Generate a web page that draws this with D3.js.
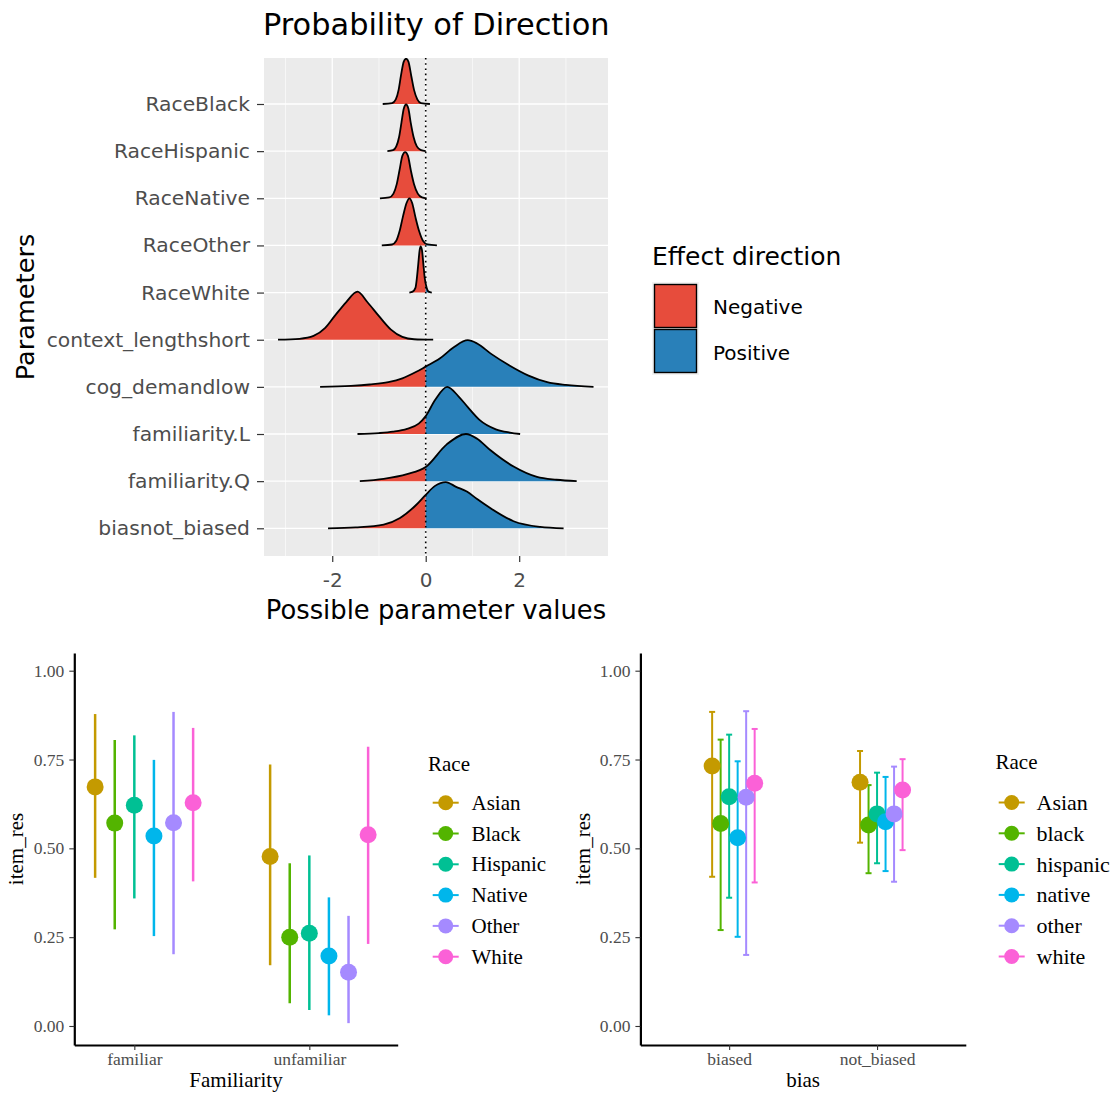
<!DOCTYPE html>
<html>
<head>
<meta charset="utf-8">
<script src="https://cdn.jsdelivr.net/npm/d3@7"></script>
<style>
  body { margin: 0; background: #fff; }
</style>
</head>
<body>
<div id="chart"></div>
<script>
// ---- top chart: posterior ridges (x value, height relative to row) ----
var params = ["RaceBlack", "RaceHispanic", "RaceNative", "RaceOther", "RaceWhite",
              "context_lengthshort", "cog_demandlow", "familiarity.L", "familiarity.Q", "biasnot_biased"];

var pdRaceBlack = [[-0.92,0],[-0.72,0.02],[-0.64,0.1],[-0.58,0.3],[-0.53,0.6],[-0.47,0.9],[-0.42,0.96],[-0.37,0.9],[-0.31,0.6],[-0.25,0.3],[-0.18,0.1],[-0.1,0.02],[0.09,0]];
var pdRaceHispanic = [[-0.82,0],[-0.7,0.02],[-0.63,0.1],[-0.57,0.3],[-0.52,0.6],[-0.47,0.9],[-0.42,0.99],[-0.37,0.9],[-0.32,0.6],[-0.26,0.3],[-0.19,0.1],[-0.1,0.02],[0.0,0]];
var pdRaceNative = [[-0.98,0],[-0.78,0.02],[-0.69,0.1],[-0.62,0.3],[-0.56,0.6],[-0.5,0.9],[-0.44,0.98],[-0.38,0.9],[-0.32,0.6],[-0.25,0.3],[-0.17,0.1],[-0.08,0.02],[0.02,0]];
var pdRaceOther = [[-0.94,0],[-0.72,0.02],[-0.63,0.1],[-0.56,0.3],[-0.49,0.6],[-0.41,0.9],[-0.35,1.0],[-0.29,0.9],[-0.22,0.6],[-0.14,0.3],[-0.06,0.1],[0.04,0.02],[0.24,0]];
var pdRaceWhite = [[-0.35,0],[-0.28,0.02],[-0.22,0.1],[-0.19,0.3],[-0.16,0.6],[-0.13,0.9],[-0.11,0.98],[-0.08,0.9],[-0.05,0.6],[-0.02,0.3],[0.02,0.1],[0.06,0.02],[0.13,0]];
var pdContext = [[-3.16,0],[-2.7,0.02],[-2.4,0.08],[-2.15,0.25],[-1.95,0.5],[-1.7,0.8],[-1.46,1.02],[-1.25,0.8],[-1.0,0.5],[-0.75,0.22],[-0.5,0.06],[-0.25,0.01],[0.16,0]];
var pdCogDemand = [[-2.26,0],[-1.6,0.02],[-1.2,0.05],[-0.8,0.1],[-0.5,0.18],[-0.2,0.32],[0,0.43],[0.3,0.6],[0.6,0.84],[0.9,0.99],[1.1,0.92],[1.4,0.7],[1.8,0.45],[2.2,0.24],[2.6,0.1],[3.0,0.04],[3.59,0]];
var pdFamL = [[-1.46,0],[-1.0,0.02],[-0.7,0.05],[-0.4,0.11],[-0.15,0.22],[0,0.38],[0.2,0.72],[0.46,1.0],[0.7,0.8],[0.9,0.57],[1.15,0.3],[1.5,0.1],[1.8,0.03],[2.02,0]];
var pdFamQ = [[-1.41,0],[-0.9,0.05],[-0.4,0.15],[0,0.3],[0.45,0.78],[0.86,1.0],[1.1,0.9],[1.38,0.66],[1.88,0.31],[2.38,0.09],[2.8,0.03],[3.23,0]];
var pdBias = [[-2.09,0],[-1.5,0.02],[-0.9,0.08],[-0.55,0.22],[-0.2,0.5],[0,0.71],[0.2,0.9],[0.43,0.98],[0.65,0.88],[0.88,0.78],[1.1,0.62],[1.38,0.43],[1.88,0.15],[2.45,0.03],[2.95,0]];

var ridges = [pdRaceBlack, pdRaceHispanic, pdRaceNative, pdRaceOther, pdRaceWhite,
              pdContext, pdCogDemand, pdFamL, pdFamQ, pdBias];

var xTicksTop = [-2, 0, 2];
var xMinorTop = [-3, -1, 1, 3];
var directions = ["Negative", "Positive"];

// ---- bottom left: Familiarity ----
var famCats = ["familiar", "unfamiliar"];
var famRaces = ["Asian", "Black", "Hispanic", "Native", "Other", "White"];
var famMid  = [[0.673, 0.571, 0.621, 0.535, 0.572, 0.628], [0.477, 0.250, 0.261, 0.197, 0.151, 0.538]];
var famLow  = [[0.417, 0.272, 0.359, 0.253, 0.202, 0.407], [0.171, 0.064, 0.045, 0.030, 0.008, 0.231]];
var famHigh = [[0.878, 0.805, 0.818, 0.749, 0.884, 0.839], [0.736, 0.458, 0.480, 0.362, 0.310, 0.786]];

// ---- bottom right: bias ----
var biasCats = ["biased", "not_biased"];
var biasRaces = ["Asian", "black", "hispanic", "native", "other", "white"];
var biasMid  = [[0.732, 0.570, 0.645, 0.530, 0.644, 0.683], [0.686, 0.566, 0.597, 0.575, 0.597, 0.664]];
var biasLow  = [[0.420, 0.270, 0.361, 0.251, 0.200, 0.404], [0.516, 0.430, 0.458, 0.436, 0.406, 0.495]];
var biasHigh = [[0.884, 0.806, 0.820, 0.745, 0.886, 0.836], [0.774, 0.678, 0.713, 0.701, 0.730, 0.751]];

var yTicksBottom = [0, 0.25, 0.5, 0.75, 1];

var raceColors = ["#C49A00", "#53B400", "#00C094", "#00B6EB", "#A58AFF", "#FB61D7"];
var negColor = "#E74C3C", posColor = "#2980B9";

var svg = d3.select("#chart").append("svg")
    .attr("width", 1119)
    .attr("height", 1095)
    .style("background", "#fff");

var sans = "DejaVu Sans, sans-serif";
var serif = "Liberation Serif, Times New Roman, serif";

// ================= TOP PANEL =================
var px0 = 264, px1 = 608, py0 = 58, py1 = 556;
var rowH = 47.14;

var xScale = d3.scaleLinear().domain([-3.46, 3.9]).range([px0, px1]);
var yScale = d3.scalePoint().domain(params).range([104, 528.3]);

var defs = svg.append("defs");
defs.append("clipPath").attr("id", "negClip").append("rect")
    .attr("x", px0).attr("y", py0).attr("width", xScale(0) - px0).attr("height", py1 - py0);
defs.append("clipPath").attr("id", "posClip").append("rect")
    .attr("x", xScale(0)).attr("y", py0).attr("width", px1 - xScale(0)).attr("height", py1 - py0);
defs.append("clipPath").attr("id", "panelClip").append("rect")
    .attr("x", px0).attr("y", py0).attr("width", px1 - px0).attr("height", py1 - py0);

var topG = svg.append("g");

topG.append("rect")
    .attr("x", px0).attr("y", py0)
    .attr("width", px1 - px0).attr("height", py1 - py0)
    .attr("fill", "#EBEBEB");

// minor grid
topG.selectAll(".minorX").data(xMinorTop).enter().append("line")
    .attr("x1", d => xScale(d)).attr("x2", d => xScale(d))
    .attr("y1", py0).attr("y2", py1)
    .attr("stroke", "#fff").attr("stroke-width", 0.6);
// major grid
topG.selectAll(".majorX").data(xTicksTop).enter().append("line")
    .attr("x1", d => xScale(d)).attr("x2", d => xScale(d))
    .attr("y1", py0).attr("y2", py1)
    .attr("stroke", "#fff").attr("stroke-width", 1.3);
topG.selectAll(".majorY").data(params).enter().append("line")
    .attr("x1", px0).attr("x2", px1)
    .attr("y1", d => yScale(d)).attr("y2", d => yScale(d))
    .attr("stroke", "#fff").attr("stroke-width", 1.3);

var ridgeG = topG.append("g").attr("clip-path", "url(#panelClip)");

params.forEach(function(p, i) {
    var base = yScale(p);
    var area = d3.area()
        .x(d => xScale(d[0]))
        .y0(base)
        .y1(d => base - d[1] * rowH)
        .curve(d3.curveMonotoneX);
    var line = d3.line()
        .x(d => xScale(d[0]))
        .y(d => base - d[1] * rowH)
        .curve(d3.curveMonotoneX);
    var g = ridgeG.append("g");
    g.append("path").attr("d", area(ridges[i])).attr("fill", negColor).attr("clip-path", "url(#negClip)");
    g.append("path").attr("d", area(ridges[i])).attr("fill", posColor).attr("clip-path", "url(#posClip)");
    g.append("path").attr("d", line(ridges[i]))
        .attr("fill", "none").attr("stroke", "#000").attr("stroke-width", 1.8)
        .attr("stroke-linejoin", "round");
});

// zero line
topG.append("line")
    .attr("x1", xScale(0)).attr("x2", xScale(0))
    .attr("y1", py0).attr("y2", py1)
    .attr("stroke", "#000").attr("stroke-width", 1.6)
    .attr("stroke-dasharray", "1.6,3.6");

// axes
var yAxisTop = topG.append("g")
    .attr("transform", "translate(" + px0 + ",0)")
    .call(d3.axisLeft(yScale).tickSize(7).tickPadding(7));
yAxisTop.select(".domain").remove();
yAxisTop.selectAll("line").attr("stroke", "#333").attr("stroke-width", 1.2);
yAxisTop.selectAll("text").attr("font-family", sans).attr("font-size", 20.3).attr("fill", "#4D4D4D");

var xAxisTop = topG.append("g")
    .attr("transform", "translate(0," + py1 + ")")
    .call(d3.axisBottom(xScale).tickValues(xTicksTop).tickFormat(d => String(d)).tickSize(6).tickPadding(11));
xAxisTop.select(".domain").remove();
xAxisTop.selectAll("line").attr("stroke", "#333").attr("stroke-width", 1.2);
xAxisTop.selectAll("text").attr("font-family", sans).attr("font-size", 20).attr("fill", "#4D4D4D");

topG.append("text")
    .attr("x", 263).attr("y", 35)
    .attr("font-family", sans).attr("font-size", 30.4)
    .text("Probability of Direction");

topG.append("text")
    .attr("x", (px0 + px1) / 2).attr("y", 619)
    .attr("text-anchor", "middle")
    .attr("font-family", sans).attr("font-size", 25.8)
    .text("Possible parameter values");

topG.append("text")
    .attr("transform", "translate(34," + ((py0 + py1) / 2) + ") rotate(-90)")
    .attr("text-anchor", "middle")
    .attr("font-family", sans).attr("font-size", 25.6)
    .text("Parameters");

// legend
var legTop = topG.append("g");
legTop.append("text")
    .attr("x", 652).attr("y", 265)
    .attr("font-family", sans).attr("font-size", 25)
    .text("Effect direction");
legTop.append("rect")
    .attr("x", 652).attr("y", 282).attr("width", 47).attr("height", 93)
    .attr("fill", "#F2F2F2");
directions.forEach(function(d, i) {
    legTop.append("rect")
        .attr("x", 654.5).attr("y", 284.5 + i * 45)
        .attr("width", 42).attr("height", 43)
        .attr("fill", i === 0 ? negColor : posColor)
        .attr("stroke", "#000").attr("stroke-width", 1.4);
    legTop.append("text")
        .attr("x", 713).attr("y", 307 + i * 46)
        .attr("dominant-baseline", "central")
        .attr("font-family", sans).attr("font-size", 20)
        .text(d);
});

// ================= BOTTOM PANELS =================
function dotPanel(o) {
    var g = svg.append("g");
    var x = d3.scaleLinear().domain(o.xDomain).range(o.xRange);
    var y = d3.scaleLinear().domain([-0.0535, 1.0498]).range([1045, 653]);

    var yAx = g.append("g")
        .attr("transform", "translate(" + o.xRange[0] + ",0)")
        .call(d3.axisLeft(y).tickValues(yTicksBottom).tickFormat(d3.format(".2f"))
              .tickSize(5).tickSizeOuter(0).tickPadding(5));
    yAx.select(".domain").attr("stroke", "#000").attr("stroke-width", 2.2);
    yAx.selectAll(".tick line").attr("stroke", "#333").attr("stroke-width", 1.1);
    yAx.selectAll("text").attr("font-family", serif).attr("font-size", 17.5).attr("fill", "#4D4D4D");

    var xAx = g.append("g")
        .attr("transform", "translate(0,1045)")
        .call(d3.axisBottom(x).tickValues([0, 1]).tickFormat(d => o.cats[d])
              .tickSize(5).tickSizeOuter(0).tickPadding(3));
    xAx.select(".domain").attr("stroke", "#000").attr("stroke-width", 2.2);
    xAx.selectAll(".tick line").attr("stroke", "#333").attr("stroke-width", 1.1);
    xAx.selectAll("text").attr("font-family", serif).attr("font-size", 17.5).attr("fill", "#4D4D4D");

    g.append("text")
        .attr("x", (o.xRange[0] + o.xRange[1]) / 2).attr("y", 1087)
        .attr("text-anchor", "middle")
        .attr("font-family", serif).attr("font-size", 21)
        .text(o.xTitle);
    g.append("text")
        .attr("transform", "translate(" + o.yTitleX + ",849) rotate(-90)")
        .attr("text-anchor", "middle")
        .attr("font-family", serif).attr("font-size", 21)
        .text("item_res");

    var rows = [];
    o.cats.forEach(function(c, ci) {
        o.races.forEach(function(r, ri) {
            rows.push({cx: ci + (ri - 2) * o.step, mid: o.mid[ci][ri], lo: o.low[ci][ri],
                       hi: o.high[ci][ri], col: raceColors[ri]});
        });
    });

    g.selectAll(".bar").data(rows).enter().append("line")
        .attr("x1", d => x(d.cx)).attr("x2", d => x(d.cx))
        .attr("y1", d => y(d.lo)).attr("y2", d => y(d.hi))
        .attr("stroke", d => d.col).attr("stroke-width", o.lw);
    if (o.caps) {
        ["lo", "hi"].forEach(function(k) {
            g.selectAll(".cap" + k).data(rows).enter().append("line")
                .attr("x1", d => x(d.cx) - 3).attr("x2", d => x(d.cx) + 3)
                .attr("y1", d => y(d[k])).attr("y2", d => y(d[k]))
                .attr("stroke", d => d.col).attr("stroke-width", o.lw);
        });
    }
    g.selectAll(".pt").data(rows).enter().append("circle")
        .attr("cx", d => x(d.cx)).attr("cy", d => y(d.mid))
        .attr("r", 8.5).attr("fill", d => d.col);

    // legend
    g.append("text")
        .attr("x", o.legX).attr("y", o.legTitleY)
        .attr("font-family", serif).attr("font-size", 21)
        .text("Race");
    o.races.forEach(function(r, ri) {
        var ky = o.legY0 + ri * 30.8;
        g.append("line")
            .attr("x1", o.keyX - 13).attr("x2", o.keyX + 13)
            .attr("y1", ky).attr("y2", ky)
            .attr("stroke", raceColors[ri]).attr("stroke-width", 2);
        g.append("circle")
            .attr("cx", o.keyX).attr("cy", ky).attr("r", 7.5)
            .attr("fill", raceColors[ri]);
        g.append("text")
            .attr("x", o.labX).attr("y", ky)
            .attr("dominant-baseline", "central")
            .attr("font-family", serif).attr("font-size", o.labSize)
            .text(r);
    });
}

dotPanel({
    cats: famCats, races: famRaces, mid: famMid, low: famLow, high: famHigh,
    xDomain: [-0.343, 1.505], xRange: [74.3, 397.7], step: 0.112,
    caps: false, lw: 2.5, xTitle: "Familiarity", yTitleX: 23,
    legX: 428, legTitleY: 771, legY0: 802.7, keyX: 445.7, labX: 471.5, labSize: 21
});

dotPanel({
    cats: biasCats, races: biasRaces, mid: biasMid, low: biasLow, high: biasHigh,
    xDomain: [-0.6, 1.6], xRange: [640.4, 965.8], step: 0.0575,
    caps: true, lw: 2, xTitle: "bias", yTitleX: 590,
    legX: 995.5, legTitleY: 769, legY0: 802.5, keyX: 1011.7, labX: 1036.5, labSize: 22
});
</script>
</body>
</html>
